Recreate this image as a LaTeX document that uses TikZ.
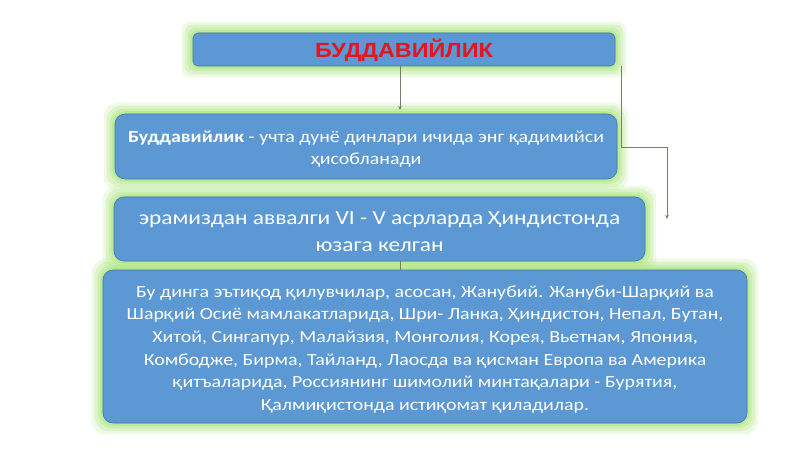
\documentclass[tikz,border=0pt]{standalone}
\usepackage{fontspec}
\setmainfont{Carlito}[FakeStretch=1.17]
\newfontfamily\titlefont{Liberation Sans}[FakeStretch=1.14]
\usetikzlibrary{arrows.meta}
\definecolor{boxblue}{RGB}{91,152,212}
\definecolor{boxedge}{RGB}{70,120,180}
\definecolor{glowgreen}{RGB}{175,232,130}
\definecolor{linegray}{RGB}{120,125,110}
\definecolor{titlered}{RGB}{230,20,30}
\tikzset{
  bluebox/.style={rectangle, rounded corners=10pt, fill=boxblue, draw=boxedge, line width=0.6pt,
    text=white, align=center, inner sep=0pt},
  conn/.style={draw=linegray, line width=0.8pt},
  tip/.style={-{Stealth[length=4pt,width=3.5pt]}},
}
\newcommand{\glowbox}[2]{%
  \foreach \d/\o in {11/0.2,8/0.28,5/0.38,2.5/0.5}{%
    \fill[glowgreen, opacity=\o, rounded corners=#2]
      ([shift={(-\d pt,\d pt)}]#1.north west) rectangle ([shift={(\d pt,-\d pt)}]#1.south east);
  }%
}
\begin{document}
\begin{tikzpicture}[x=1pt,y=-1pt]
\useasboundingbox (0,0) rectangle (800,449);
\fill[white] (0,0) rectangle (800,449);
\path
  node[bluebox, rounded corners=5pt, minimum width=422pt, minimum height=33pt] (title) at (404,49.5) {}
  node[bluebox, minimum width=502pt, minimum height=65pt] (b1) at (366,146.5) {}
  node[bluebox, minimum width=531pt, minimum height=64pt] (b2) at (379.5,229) {}
  node[bluebox, minimum width=644pt, minimum height=153pt] (b3) at (425,346.5) {};
\glowbox{title}{8pt}
\glowbox{b1}{14pt}
\glowbox{b2}{14pt}
\glowbox{b3}{14pt}
\node[bluebox, rounded corners=5pt, minimum width=422pt, minimum height=33pt] at (title.center) {};
\node[bluebox, minimum width=502pt, minimum height=65pt] at (b1.center) {};
\node[bluebox, minimum width=531pt, minimum height=64pt] at (b2.center) {};
\node[bluebox, minimum width=644pt, minimum height=153pt] at (b3.center) {};
\node[text=titlered, font=\titlefont\bfseries\fontsize{20.5}{24}\selectfont, inner sep=0pt] (tt) at ([yshift=-1pt]title.center) {БУДДАВИЙЛИК};
\node[text=white, align=center, inner sep=0pt, font=\fontsize{17}{22}\selectfont] (t1) at ([yshift=-3pt]b1.center)
  {\textbf{Буддавийлик} - учта дунё динлари ичида энг қадимийси\\ ҳисобланади};
\node[text=white, align=center, inner sep=0pt, font=\fontsize{20}{27}\selectfont] (t2) at ([yshift=-2.5pt]b2.center)
  {эрамиздан аввалги VI - V асрларда Ҳиндистонда\\ юзага келган};
\node[text=white, align=center, inner sep=0pt, font=\fontsize{17}{22.6}\selectfont] (t3) at ([yshift=-3pt]b3.center)
  {Бу динга эътиқод қилувчилар, асосан, Жанубий. Жануби-Шарқий ва\\
   Шарқий Осиё мамлакатларида, Шри- Ланка, Ҳиндистон, Непал, Бутан,\\
   Хитой, Сингапур, Малайзия, Монголия, Корея, Вьетнам, Япония,\\
   Комбодже, Бирма, Тайланд, Лаосда ва қисман Европа ва Америка\\
   қитъаларида, Россиянинг шимолий минтақалари - Бурятия,\\
   Қалмиқистонда истиқомат қиладилар.};
\coordinate (a1) at (400,66);
\coordinate (a2) at (400,110);
\coordinate (c0) at (621,66);
\coordinate (c1) at (621,147);
\coordinate (c2) at (667,147);
\coordinate (c3) at (667,219);
\coordinate (d0) at (400,261);
\coordinate (d1) at (400,270);
\draw[conn, tip] (a1) -- (a2);
\draw[conn, tip] (c0) -- (c1) -- (c2) -- (c3);
\draw[conn] (d0) -- (d1);
\end{tikzpicture}
\end{document}
